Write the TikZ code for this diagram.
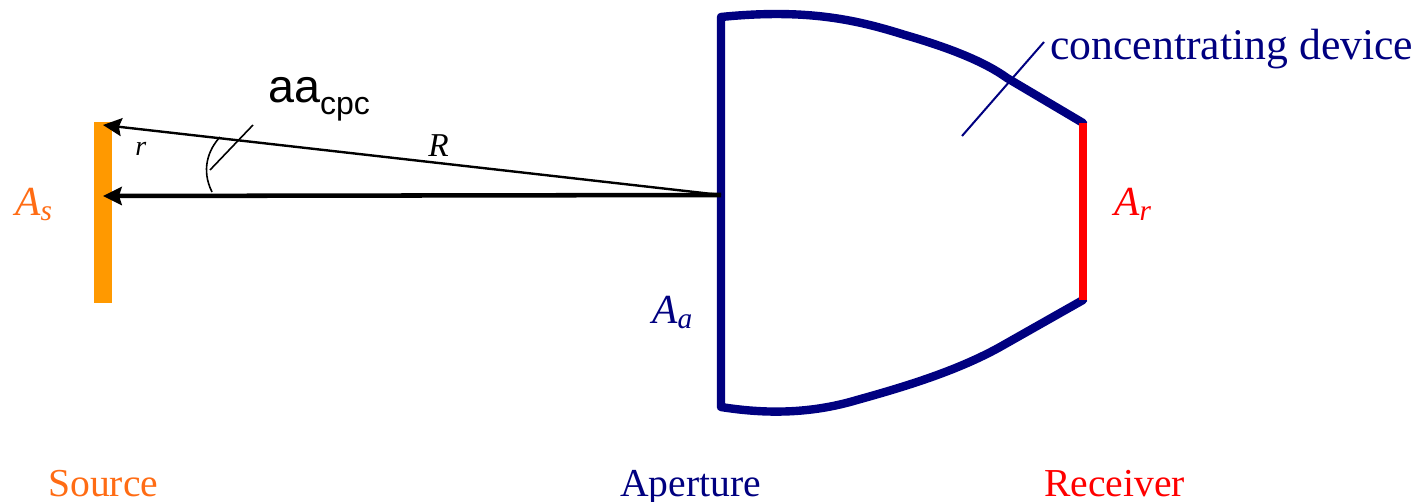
\documentclass[tikz,border=0pt]{standalone}
\usepackage{fontspec}
\setmainfont{Liberation Serif}
\newfontfamily\arialf{Liberation Sans}
\definecolor{navyc}{RGB}{0,0,128}
\definecolor{orangec}{RGB}{255,153,0}
\definecolor{labelorange}{RGB}{255,108,20}
\definecolor{redc}{RGB}{255,0,0}
\usetikzlibrary{arrows.meta}
\tikzset{
  lbl/.style={inner sep=0pt,anchor=base west},
  device/.style={draw=navyc,line width=6.3pt,line cap=round,line join=round},
  thinnavy/.style={draw=navyc,line width=1.5pt},
  ray/.style={draw=black,-{Stealth[length=14pt,width=13.5pt,inset=2pt]}},
  big/.style={font=\fontsize{31}{31}\selectfont\itshape},
}
\newcommand{\subt}[1]{\raisebox{-4pt}{\fontsize{22}{22}\selectfont #1}}
\begin{document}
\begin{tikzpicture}[x=0.75pt,y=-0.75pt]
\useasboundingbox (0,0) rectangle (1426,502);
\fill[orangec] (94,122) rectangle (112,303);
\coordinate (apex) at (721,195);
\coordinate (top) at (103,125);
\coordinate (mid) at (103,196);
\coordinate (lt) at (721,17);
\coordinate (lb) at (721,407);
\coordinate (rt) at (1083,123);
\coordinate (rb) at (1083,300);
% device
\draw[device] (rt) -- (1007,78) .. controls (985,62) and (950,48) .. (905,35)
  .. controls (860,21) and (810,8) .. (lt) -- (lb)
  .. controls (765,414) and (810,414) .. (857,400)
  .. controls (900,388) and (955,372) .. (1000,347) -- (rb);
\draw[redc,line width=6pt] (rt) -- (rb);
% rays
\draw[ray,line width=1.8pt] (apex) -- (top);
\draw[ray,line width=3.4pt] (apex) -- (mid);
% angle arc and pointer
\coordinate (arcA) at (220,137);
\coordinate (arcB) at (212,192);
\draw[black,line width=1.2pt] (arcA) .. controls (208,150) and (201,170) .. (arcB);
\coordinate (ptrA) at (253,125);
\coordinate (ptrB) at (210,170);
\draw[black,line width=1.2pt] (ptrA) -- (ptrB);
\coordinate (devA) at (1044,42);
\coordinate (devB) at (962,136);
\draw[thinnavy] (devA) -- (devB);
% labels
\node[lbl] (aa) at (268,103) {\arialf\fontsize{35}{35}\selectfont aa\raisebox{-9pt}{\fontsize{24}{24}\selectfont cpc}};
\node[lbl] (r) at (135,156) {\fontsize{21}{21}\selectfont\itshape r};
\node[lbl] (R) at (428,157) {\fontsize{25}{25}\selectfont\itshape R};
\node[lbl,text=labelorange,big] (As) at (15,215) {A\subt{s}};
\node[lbl,text=redc,big] (Ar) at (1114,215) {A\subt{r}};
\node[lbl,text=navyc,big] (Aa) at (652,323) {A\subt{a}};
\node[lbl,text=navyc] (dev) at (1050,60) {\fontsize{32.8}{33}\selectfont concentrating device};
\node[lbl,text=labelorange] (Source) at (48,496) {\fontsize{29.7}{30}\selectfont Source};
\node[lbl,text=navyc] (Aperture) at (620,496) {\fontsize{29.7}{30}\selectfont Aperture};
\node[lbl,text=redc] (Receiver) at (1044,496) {\fontsize{29.7}{30}\selectfont Receiver};
\end{tikzpicture}
\end{document}
